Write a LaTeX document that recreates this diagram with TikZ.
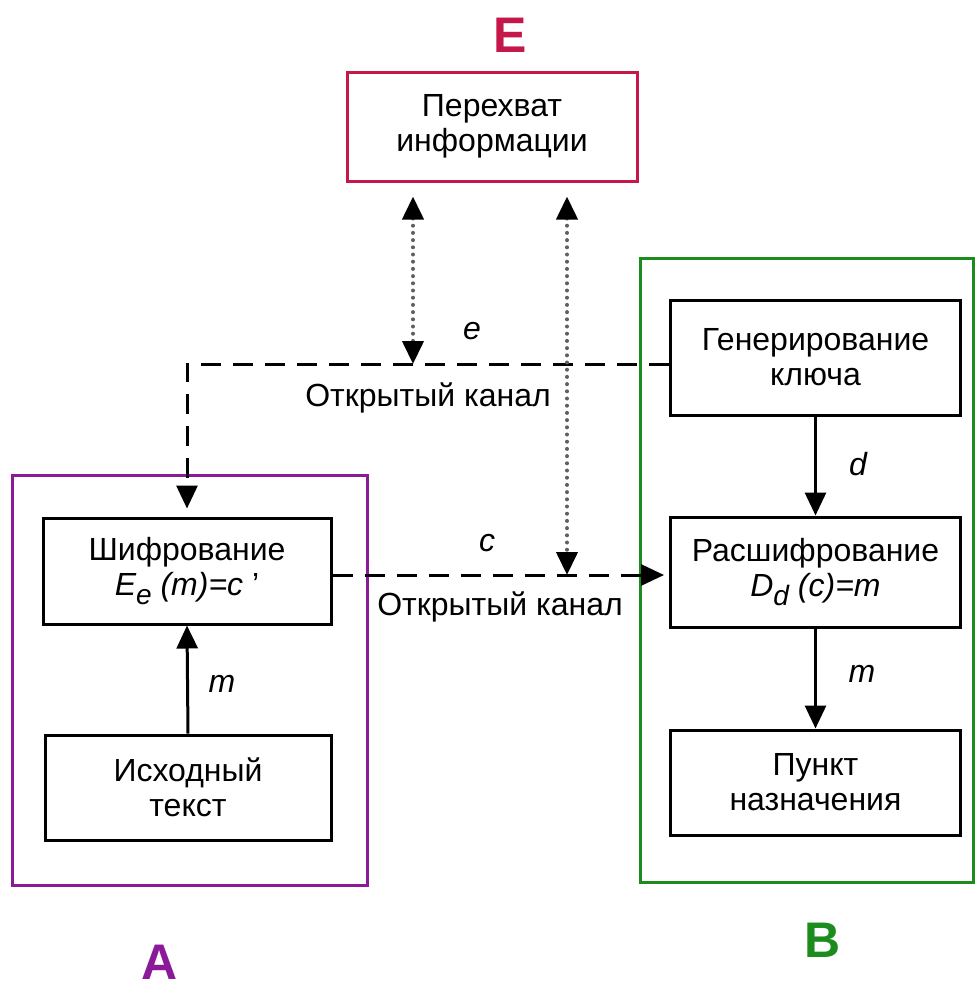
\documentclass[tikz,border=0pt]{standalone}
\usepackage{fontspec}
\setmainfont{Liberation Sans}
\usetikzlibrary{arrows.meta}
\definecolor{ecol}{RGB}{196,24,74}
\definecolor{acol}{RGB}{139,26,153}
\definecolor{bcol}{RGB}{28,140,28}
\definecolor{dotcol}{RGB}{95,95,95}
\begin{document}
\begin{tikzpicture}[x=0.5pt,y=-0.5pt,
  every node/.style={font=\fontsize{16}{17.5}\selectfont},
  blk/.style={draw=black,line width=1.5pt,align=center,inner sep=0pt,minimum width=145pt},
  tip/.style={-{Triangle[length=11.5pt,width=10.5pt]}},
  dtip/.style={{Triangle[length=11.5pt,width=10.5pt]}-{Triangle[length=11.5pt,width=10.5pt]}},
  solidarrow/.style={tip,line width=1.5pt},
  dasharrow/.style={tip,line width=1.5pt,dash pattern=on 10pt off 6pt},
  dotarrow/.style={dtip,line width=2pt,line cap=round,dash pattern=on 0pt off 3.6pt,dotcol,
     arrows={[black,line cap=butt]}},
  lbl/.style={font=\fontsize{16}{17.5}\selectfont\itshape},
  big/.style={font=\fontsize{25}{28}\selectfont\bfseries}]
\useasboundingbox (0,0) rectangle (976,987);
% frames
\draw[acol,line width=1.5pt] (12,475) rectangle (367,885);
\draw[bcol,line width=1.5pt] (640,258) rectangle (973,882);
% group labels
\node[big,text=ecol] (labE) at (510,35) {E};
\node[big,text=acol] (labA) at (160,962) {A};
\node[big,text=bcol] (labB) at (823,940) {B};
% boxes
\node[blk,draw=ecol,minimum height=54.5pt] (E) at (492,126.5) {Перехват\\информации};
\node[blk,minimum height=57.5pt] (gen) at (815.5,357.5) {Генерирование\\ключа};
\node[blk,minimum height=55pt] (dec) at (815.5,572) {Расшифрование\\{\itshape D\raisebox{-0.55ex}{\fontsize{14}{15}\selectfont d} (c)=m}};
\node[blk,minimum height=52.5pt] (dst) at (815.5,782.5) {Пункт\\назначения};
\node[blk,minimum width=144pt,minimum height=53pt] (enc) at (187,571) {Шифрование\\{\itshape E\raisebox{-0.55ex}{\fontsize{14}{15}\selectfont e} (m)=c {\upshape\char"0027}}};
\node[blk,minimum width=143pt,minimum height=52.5pt] (src) at (188,787.5) {Исходный\\текст};
% connectors
\draw[solidarrow] (gen.south) -- (dec.north);
\draw[solidarrow] (dec.south) -- (dst.north);
\draw[solidarrow] (src.north) -- (enc.south);
\coordinate (gw) at ([yshift=-3.25pt]gen.west);
\coordinate (corner) at (gw -| enc.north);
\draw[dasharrow,shorten >=4pt] (gw) -- (corner) -- (enc.north);
\coordinate (ee) at ([yshift=-2pt]enc.east);
\coordinate (dw) at (ee -| dec.west);
\draw[dasharrow,shorten >=2.5pt] (ee) -- (dw);
\coordinate (tapL) at (gw -| 413,0);
\coordinate (tapR) at (ee -| 567,0);
\draw[dotarrow,shorten <=7pt] (E.south -| tapL) -- (tapL);
\draw[dotarrow,shorten <=7pt] (E.south -| tapR) -- (tapR);
% labels
\node[lbl] (le) at (472,331) {e};
\node[lbl] (lc) at (487,543) {c};
\node[lbl] (ld) at (858,464) {d};
\node[lbl] (lm1) at (862,674) {m};
\node[lbl] (lm2) at (222,684) {m};
\node (ch1) at (428,398) {Открытый канал};
\node (ch2) at (500,607) {Открытый канал};
\end{tikzpicture}
\end{document}
